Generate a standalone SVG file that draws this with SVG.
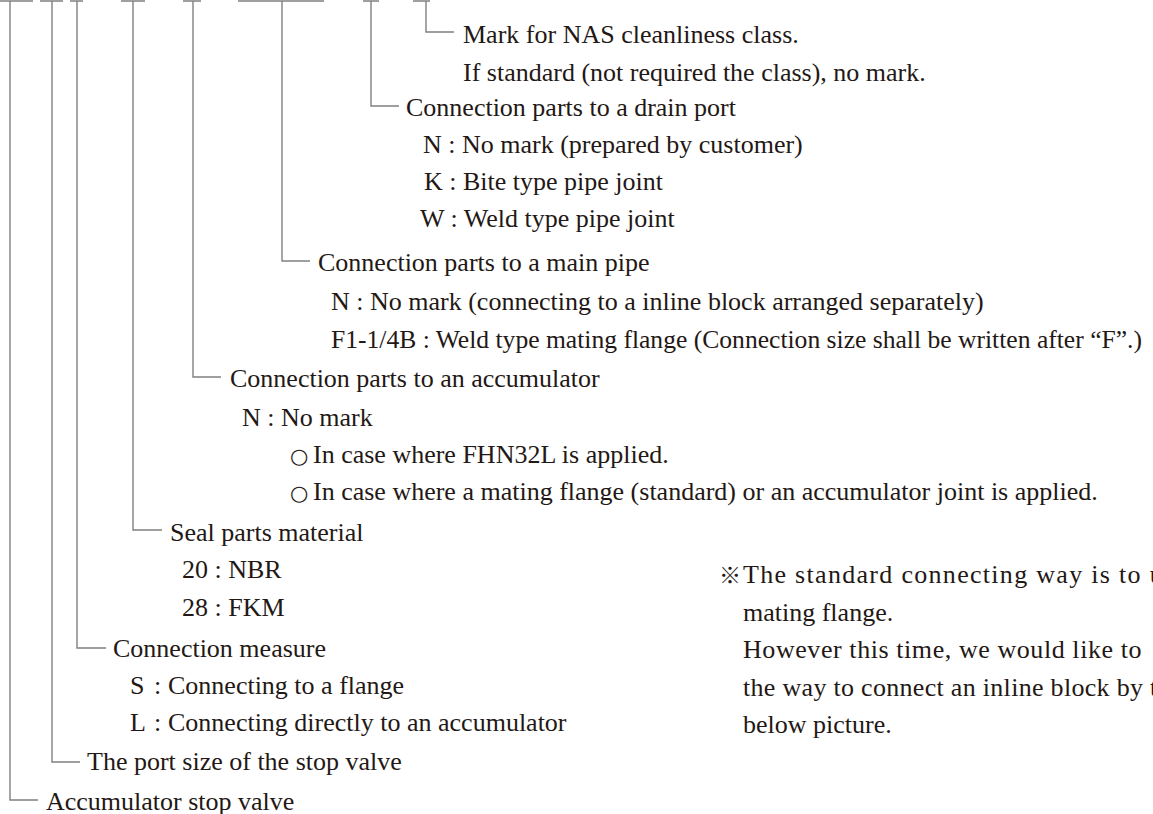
<svg xmlns="http://www.w3.org/2000/svg" width="1153" height="814" viewBox="0 0 1153 814">
<style>
.t { font-family: "Liberation Serif", "Noto Sans CJK JP", serif; font-size: 26px; fill: #231815; }
.o { font-family: "DejaVu Sans", "Noto Sans CJK JP", sans-serif; font-size: 21px; }
.k { font-family: "Noto Sans CJK JP", "DejaVu Sans", sans-serif; font-size: 22px; }
.c { fill: none; stroke: #808080; stroke-width: 1.4; }
</style>
<rect width="1153" height="814" fill="#ffffff"/>
<g id="connectors" class="c">
<path d="M0 1H33M40 1H63M70 1H83M121 1H145M183 1H201M238 1H324M363 1H379M413 1H430"/>
<path d="M10 1V800H38"/>
<path d="M52 1V762H80"/>
<path d="M77 1V648H106"/>
<path d="M133 1V530H162"/>
<path d="M193 1V377H221"/>
<path d="M282 1V261H310"/>
<path d="M371 1V106H399"/>
<path d="M426 1V32H454"/>
</g>
<g id="nas" class="t">
<text x="463" y="43">Mark for NAS cleanliness class.</text>
<text x="463" y="81">If standard (not required the class), no mark.</text>
</g>
<g id="drain" class="t">
<text x="406" y="116">Connection parts to a drain port</text>
<text x="423" y="153">N : No mark (prepared by customer)</text>
<text x="424" y="190">K : Bite type pipe joint</text>
<text x="420" y="227">W : Weld type pipe joint</text>
</g>
<g id="main-pipe" class="t">
<text x="318" y="271">Connection parts to a main pipe</text>
<text x="331" y="310">N : No mark (connecting to a inline block arranged separately)</text>
<text x="331" y="348" textLength="811" lengthAdjust="spacingAndGlyphs">F1-1/4B : Weld type mating flange (Connection size shall be written after “F”.)</text>
</g>
<g id="accumulator-parts" class="t">
<text x="230" y="387">Connection parts to an accumulator</text>
<text x="242" y="426">N : No mark</text>
<text x="290" y="463"><tspan class="o">○</tspan><tspan x="313">In case where FHN32L is applied.</tspan></text>
<text x="290" y="500"><tspan class="o">○</tspan><tspan x="313">In case where a mating flange (standard) or an accumulator joint is applied.</tspan></text>
</g>
<g id="seal" class="t">
<text x="170" y="541">Seal parts material</text>
<text x="182" y="578">20 : NBR</text>
<text x="182" y="616">28 : FKM</text>
</g>
<g id="measure" class="t">
<text x="113" y="657">Connection measure</text>
<text x="130" y="694">S<tspan x="154">:</tspan><tspan x="168">Connecting to a flange</tspan></text>
<text x="130" y="731">L<tspan x="154">:</tspan><tspan x="168">Connecting directly to an accumulator</tspan></text>
</g>
<g id="port-size" class="t">
<text x="87" y="770">The port size of the stop valve</text>
</g>
<g id="stop-valve" class="t">
<text x="46" y="810">Accumulator stop valve</text>
</g>
<g id="note" class="t">
<text x="719" y="583"><tspan class="k">※</tspan><tspan x="743" letter-spacing="1.3">The standard connecting way is to u</tspan></text>
<text x="743" y="621">mating flange.</text>
<text x="743" y="658" letter-spacing="0.57">However this time, we would like to</text>
<text x="743" y="696" letter-spacing="0.3">the way to connect an inline block by t</text>
<text x="743" y="733">below picture.</text>
</g>
</svg>
